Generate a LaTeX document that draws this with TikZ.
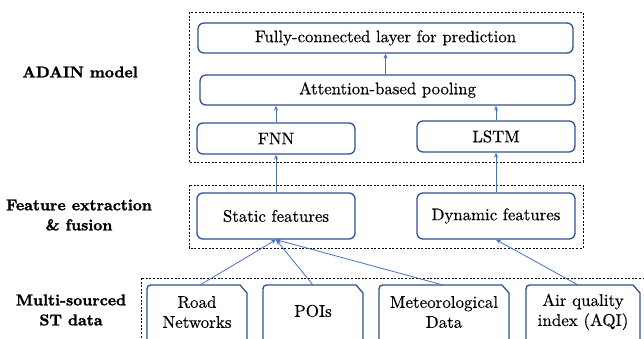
\documentclass[tikz,border=0pt]{standalone}
\usepackage{fontspec}
\setmainfont{lmroman10-regular.otf}[FakeBold=0.35, BoldFont=lmroman10-bold.otf, BoldFeatures={FakeBold=1.6}]
\usetikzlibrary{arrows.meta}
\definecolor{boxblue}{RGB}{47,82,143}
\definecolor{arrblue}{RGB}{68,114,196}
\tikzset{
  blk/.style={draw=boxblue, line width=1.3pt, rounded corners=6pt, inner sep=0pt, align=center,
    font=\fontsize{16.8}{20}\selectfont},
  grp/.style={draw=black, line width=0.8pt, dash pattern=on 2pt off 1.6pt},
  lbl/.style={inner sep=0pt, align=center, font=\fontsize{15.7}{20}\selectfont\bfseries},
  src/.style={inner sep=0pt, align=center, font=\fontsize{17}{20}\selectfont},
  arr/.style={draw=arrblue, line width=0.8pt, -{Stealth[length=5pt,width=4pt]}},
  srcline/.style={draw=boxblue, line width=1.3pt}
}
\newcommand{\srcshape}[2]{\draw[srcline] (#1,350) -- (#1,293) .. controls (#1,285) .. (#1+8,285) -- (#2-7,285) -- (#2,293) -- (#2,350);}
\begin{document}
\begin{tikzpicture}[x=1pt,y=-1pt]
\useasboundingbox (0,0) rectangle (644,339);
\clip (0,0) rectangle (644,339);
% group frames
\draw[grp] (189,12) rectangle (583,162);
\draw[grp] (189,185) rectangle (583,248);
\draw[grp] (141,278) rectangle (660,360);
% blocks
\node[blk, minimum width=375pt, minimum height=30pt] (fc) at (385.5,38) {Fully-connected layer for prediction};
\node[blk, minimum width=375pt, minimum height=30pt] (att) at (387.5,90) {Attention-based pooling};
\node[blk, minimum width=158pt, minimum height=31pt] (fnn) at (276,138.5) {FNN};
\node[blk, minimum width=158pt, minimum height=31pt] (lstm) at (496,136.5) {LSTM};
\node[blk, minimum width=158pt, minimum height=46pt] (static) at (276,216) {Static features};
\node[blk, minimum width=158pt, minimum height=46pt] (dyn) at (496,216) {Dynamic features};
% source shapes
\srcshape{147}{247}
\srcshape{263}{363}
\srcshape{379}{509}
\srcshape{526}{640}
\node[src] (road) at (197,312) {Road\\Networks};
\node[src] (poi) at (313,311) {POIs};
\node[src] (met) at (444,312) {Meteorological\\Data};
\node[src] (aqi) at (583,312) {Air quality\\index (AQI)};
\coordinate (roadtop) at (200,285);
\coordinate (poitop) at (313,285);
\coordinate (mettop) at (443,285);
\coordinate (aqitop) at (578,285);
% labels
\node[lbl] (l1) at (80,72) {ADAIN model};
\node[lbl] (l2) at (79,215) {Feature extraction\\\& fusion};
\node[lbl] (l3) at (71,310) {Multi-sourced\\ST data};
% arrows
\draw[arr] (att.north -| fc.south) -- (fc.south);
\draw[arr] (fnn.north) -- (fnn.north |- att.south);
\draw[arr] (lstm.north) -- (lstm.north |- att.south);
\draw[arr] (static.north) -- (fnn.south);
\draw[arr] (dyn.north) -- (lstm.south);
\draw[arr] (roadtop) -- (static.south);
\draw[arr] (poitop) -- (static.south);
\draw[arr] (mettop) -- (static.south);
\draw[arr] (aqitop) -- (dyn.south);
\end{tikzpicture}
\end{document}
